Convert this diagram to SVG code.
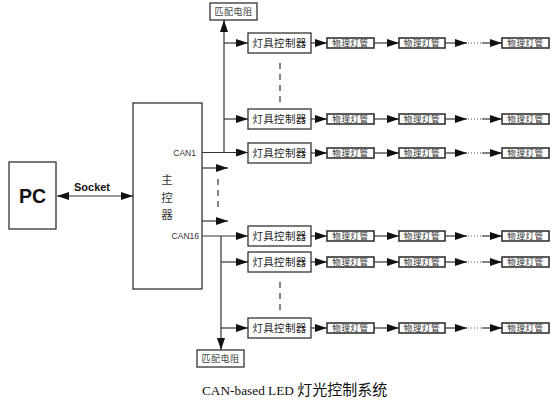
<svg xmlns="http://www.w3.org/2000/svg" width="560" height="401" viewBox="0 0 560 401">
<defs>
<marker id="ah" markerUnits="userSpaceOnUse" markerWidth="12" markerHeight="8" refX="12" refY="4" orient="auto-start-reverse"><path d="M0,0 L12,4 L0,8 z" fill="#111"/></marker>
<style>
.bx{fill:#fff;stroke:#333;stroke-width:1.3}
.tb{fill:#fff;stroke:#333;stroke-width:1.6}
.ln{fill:none;stroke:#333;stroke-width:1.2}
.ar{fill:none;stroke:#333;stroke-width:1.2;marker-end:url(#ah)}
.da{fill:none;stroke:#444;stroke-width:1.3;stroke-dasharray:6,5}
.dt{fill:none;stroke:#555;stroke-width:1;stroke-dasharray:1,2}
.ct{font-family:"Noto Sans CJK SC",sans-serif;font-size:10.5px;fill:#222;text-anchor:middle;letter-spacing:0.3px}
.tt{font-family:"Noto Sans CJK SC",sans-serif;font-size:8.5px;fill:#333;text-anchor:middle;letter-spacing:0.6px}
.mt{font-family:"Noto Sans CJK SC",sans-serif;font-size:9px;fill:#444;text-anchor:middle;letter-spacing:0.5px}
.can{font-family:"Liberation Sans",Arial,sans-serif;font-size:8.5px;fill:#333;text-anchor:end}
.mc{font-family:"Noto Sans CJK SC",sans-serif;font-size:11.5px;fill:#333;text-anchor:middle}
</style>
</defs>

<g id="pc"><rect class="bx" x="9" y="162" width="47" height="67"/><text x="32.5" y="203" font-family="Liberation Sans,Arial,sans-serif" font-weight="bold" font-size="19.5" text-anchor="middle" fill="#111">PC</text></g>

<g id="main"><rect class="bx" x="133" y="103" width="69" height="186"/>
<text class="mc" x="167" y="184">主</text>
<text class="mc" x="167" y="201.5">控</text>
<text class="mc" x="167" y="219">器</text>
<text class="can" x="196" y="156">CAN1</text>
<text class="can" x="199" y="239">CAN16</text></g>

<g id="res-top"><rect class="bx" x="210" y="3" width="47" height="17"/><text class="mt" x="233.5" y="15">匹配电阻</text></g>
<g id="res-bottom"><rect class="bx" x="197" y="350" width="47" height="17"/><text class="mt" x="220.5" y="362">匹配电阻</text></g>

<g id="ctrl1"><rect class="bx" x="248" y="33" width="63" height="20"/><text class="ct" x="279.5" y="47">灯具控制器</text></g>
<g id="ctrl2"><rect class="bx" x="248" y="109" width="63" height="20"/><text class="ct" x="279.5" y="123">灯具控制器</text></g>
<g id="ctrl3"><rect class="bx" x="248" y="143" width="63" height="20"/><text class="ct" x="279.5" y="157">灯具控制器</text></g>
<g id="ctrl4"><rect class="bx" x="248" y="226" width="63" height="20"/><text class="ct" x="279.5" y="240">灯具控制器</text></g>
<g id="ctrl5"><rect class="bx" x="248" y="252" width="63" height="20"/><text class="ct" x="279.5" y="266">灯具控制器</text></g>
<g id="ctrl6"><rect class="bx" x="248" y="318" width="63" height="20"/><text class="ct" x="279.5" y="332">灯具控制器</text></g>

<g id="tubes">
<g id="r1"><rect class="tb" x="327" y="38" width="47" height="10"/><text class="tt" x="350.5" y="46">物理灯管</text><rect class="tb" x="399" y="38" width="46" height="10"/><text class="tt" x="422" y="46">物理灯管</text><rect class="tb" x="502" y="38" width="47" height="10"/><text class="tt" x="525.5" y="46">物理灯管</text></g>
<g id="r2"><rect class="tb" x="327" y="114" width="47" height="10"/><text class="tt" x="350.5" y="122">物理灯管</text><rect class="tb" x="399" y="114" width="46" height="10"/><text class="tt" x="422" y="122">物理灯管</text><rect class="tb" x="502" y="114" width="47" height="10"/><text class="tt" x="525.5" y="122">物理灯管</text></g>
<g id="r3"><rect class="tb" x="327" y="148" width="47" height="10"/><text class="tt" x="350.5" y="156">物理灯管</text><rect class="tb" x="399" y="148" width="46" height="10"/><text class="tt" x="422" y="156">物理灯管</text><rect class="tb" x="502" y="148" width="47" height="10"/><text class="tt" x="525.5" y="156">物理灯管</text></g>
<g id="r4"><rect class="tb" x="327" y="231" width="47" height="10"/><text class="tt" x="350.5" y="239">物理灯管</text><rect class="tb" x="399" y="231" width="46" height="10"/><text class="tt" x="422" y="239">物理灯管</text><rect class="tb" x="502" y="231" width="47" height="10"/><text class="tt" x="525.5" y="239">物理灯管</text></g>
<g id="r5"><rect class="tb" x="327" y="257" width="47" height="10"/><text class="tt" x="350.5" y="265">物理灯管</text><rect class="tb" x="399" y="257" width="46" height="10"/><text class="tt" x="422" y="265">物理灯管</text><rect class="tb" x="502" y="257" width="47" height="10"/><text class="tt" x="525.5" y="265">物理灯管</text></g>
<g id="r6"><rect class="tb" x="327" y="323" width="47" height="10"/><text class="tt" x="350.5" y="331">物理灯管</text><rect class="tb" x="399" y="323" width="46" height="10"/><text class="tt" x="422" y="331">物理灯管</text><rect class="tb" x="502" y="323" width="47" height="10"/><text class="tt" x="525.5" y="331">物理灯管</text></g>
</g>

<g id="connectors">
<path class="ln" d="M57,196 H133" marker-start="url(#ah)" marker-end="url(#ah)"/>
<text x="92" y="191" font-family="Liberation Sans,Arial,sans-serif" font-weight="bold" font-size="11" text-anchor="middle" fill="#111">Socket</text>
<path class="ar" d="M224,152 V20"/>
<path class="ar" d="M224,43 H248"/>
<path class="ar" d="M224,119 H248"/>
<path class="ar" d="M202,152.5 H248"/>
<path class="ar" d="M202,168 H228"/>
<path class="ar" d="M202,221 H228"/>
<path class="da" d="M218,179 V211"/>
<path class="ar" d="M202,236 H248"/>
<path class="ar" d="M221,236 V350"/>
<path class="ar" d="M221,262 H248"/>
<path class="ar" d="M221,328 H248"/>
<path class="da" d="M280,63 V104"/>
<path class="da" d="M280,282 V313"/>
<g id="chains">
<path class="ar" d="M311,43 H327"/><path class="ar" d="M374,43 H399"/><path class="ar" d="M445,43 H467"/><path class="dt" d="M468,43 H482"/><path class="ar" d="M482,43 H502"/>
<path class="ar" d="M311,119 H327"/><path class="ar" d="M374,119 H399"/><path class="ar" d="M445,119 H467"/><path class="dt" d="M468,119 H482"/><path class="ar" d="M482,119 H502"/>
<path class="ar" d="M311,153 H327"/><path class="ar" d="M374,153 H399"/><path class="ar" d="M445,153 H467"/><path class="dt" d="M468,153 H482"/><path class="ar" d="M482,153 H502"/>
<path class="ar" d="M311,236 H327"/><path class="ar" d="M374,236 H399"/><path class="ar" d="M445,236 H467"/><path class="dt" d="M468,236 H482"/><path class="ar" d="M482,236 H502"/>
<path class="ar" d="M311,262 H327"/><path class="ar" d="M374,262 H399"/><path class="ar" d="M445,262 H467"/><path class="dt" d="M468,262 H482"/><path class="ar" d="M482,262 H502"/>
<path class="ar" d="M311,328 H327"/><path class="ar" d="M374,328 H399"/><path class="ar" d="M445,328 H467"/><path class="dt" d="M468,328 H482"/><path class="ar" d="M482,328 H502"/>
</g>
</g>

<text x="202" y="395" font-family="Liberation Serif,'Times New Roman',serif" font-size="13.3" fill="#111">CAN-based LED <tspan font-family="Noto Sans CJK SC,serif" font-size="15">灯光控制系统</tspan></text>
</svg>
